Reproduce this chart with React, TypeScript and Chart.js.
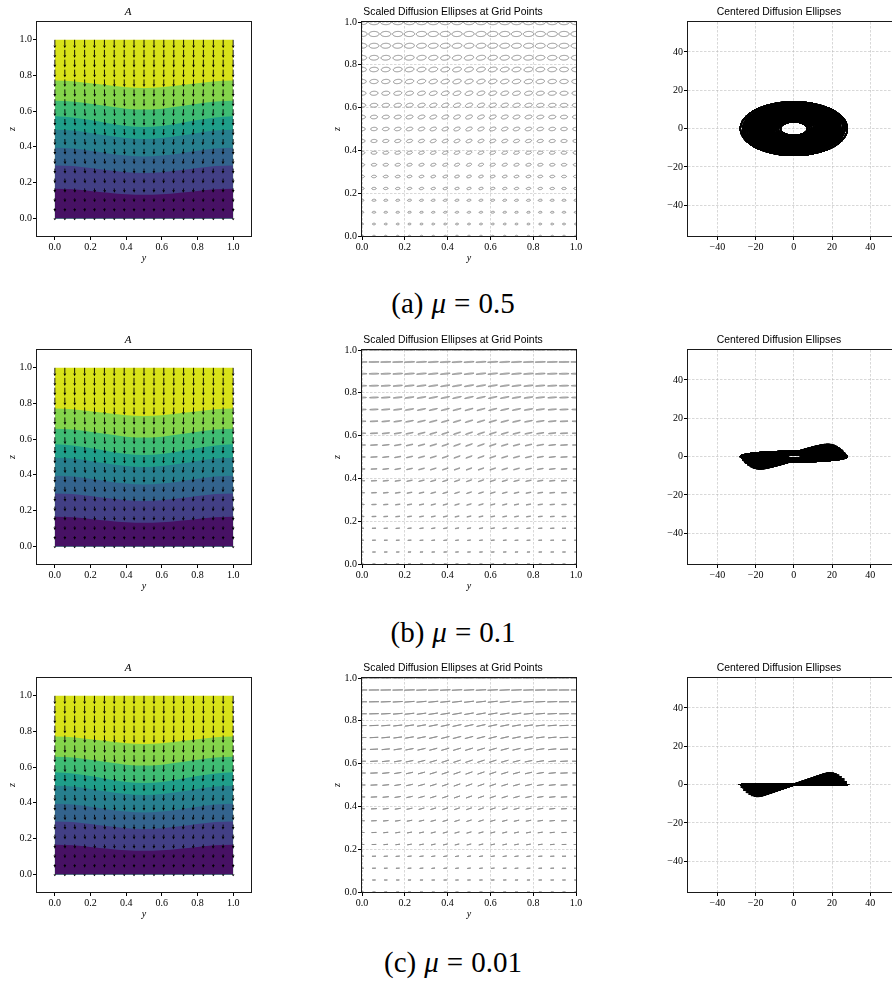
import React, { useEffect, useRef } from 'react';
import { Chart, registerables } from 'chart.js';

Chart.register(...registerables);

// ---------------- data ----------------
const GRID_Y = [0, 0.056, 0.111, 0.167, 0.222, 0.278, 0.333, 0.389, 0.444, 0.5, 0.556, 0.611, 0.667, 0.722, 0.778, 0.833, 0.889, 0.944, 1.0];
const GRID_Z = [0, 0.056, 0.111, 0.167, 0.222, 0.278, 0.333, 0.389, 0.444, 0.5, 0.556, 0.611, 0.667, 0.722, 0.778, 0.833, 0.889, 0.944, 1.0];

// semi-major axis of the diffusion ellipse for each z row (centered-plot units)
const SEMI_MAJOR = [7.0, 8.2, 9.3, 10.5, 11.7, 12.8, 14.0, 15.2, 16.3, 17.5, 18.7, 19.8, 21.0, 22.2, 23.3, 24.5, 25.7, 26.8, 28.0];
// tilt (degrees) by z row, and its weight by y column
const TILT_ROW_DEG = [0, 3.4, 6.7, 9.8, 12.5, 14.9, 16.9, 18.3, 19.2, 19.5, 19.2, 18.3, 16.9, 14.9, 12.5, 9.8, 6.7, 3.4, 0];
const TILT_COL = [0, 0.17, 0.34, 0.5, 0.64, 0.77, 0.87, 0.94, 0.98, 1, 0.98, 0.94, 0.87, 0.77, 0.64, 0.5, 0.34, 0.17, 0];

const MU = [0.5, 0.1, 0.01];
const CAPTION_TAGS = ['(a)', '(b)', '(c)'];
const CAPTION_MU = ['0.5', '0.1', '0.01'];

// quiver arrows of the A field (length in data units by row, sideways skew)
const ARROW_LEN = [0.012, 0.02, 0.022, 0.025, 0.027, 0.029, 0.031, 0.033, 0.035, 0.037, 0.038, 0.04, 0.041, 0.042, 0.043, 0.044, 0.045, 0.046, 0.047];
const ARROW_SKEW_COL = [0, 0.05, 0.09, 0.12, 0.13, 0.12, 0.1, 0.07, 0.03, 0, -0.03, -0.07, -0.1, -0.12, -0.13, -0.12, -0.09, -0.05, 0];
const ARROW_SKEW_ROW = [0.3, 0.5, 0.7, 0.85, 0.95, 1, 1, 1, 0.95, 0.9, 0.8, 0.7, 0.55, 0.4, 0.25, 0.15, 0.05, 0, 0];

// filled contour band upper boundaries of A (z values along y)
const CONTOUR_Y = [0, 0.1, 0.2, 0.3, 0.4, 0.5, 0.6, 0.7, 0.8, 0.9, 1.0];
const BOUND_1 = [0.165, 0.162, 0.153, 0.143, 0.134, 0.131, 0.134, 0.143, 0.153, 0.162, 0.165];
const BOUND_2 = [0.296, 0.292, 0.281, 0.268, 0.257, 0.253, 0.257, 0.268, 0.281, 0.292, 0.296];
const BOUND_3 = [0.395, 0.39, 0.378, 0.363, 0.351, 0.346, 0.351, 0.363, 0.378, 0.39, 0.395];
const BOUND_4 = [0.496, 0.491, 0.478, 0.462, 0.449, 0.444, 0.449, 0.462, 0.478, 0.491, 0.496];
const BOUND_5 = [0.571, 0.565, 0.55, 0.532, 0.517, 0.511, 0.517, 0.532, 0.55, 0.565, 0.571];
const BOUND_6 = [0.659, 0.654, 0.642, 0.627, 0.614, 0.609, 0.614, 0.627, 0.642, 0.654, 0.659];
const BOUND_7 = [0.772, 0.768, 0.757, 0.745, 0.734, 0.73, 0.734, 0.745, 0.757, 0.768, 0.772];
const BOUND_TOP = [1, 1, 1, 1, 1, 1, 1, 1, 1, 1, 1];
const BOUNDS = [BOUND_1, BOUND_2, BOUND_3, BOUND_4, BOUND_5, BOUND_6, BOUND_7, BOUND_TOP];
const BAND_COLORS = ['#471164', '#423f85', '#33638d', '#277f8e', '#1f9e89', '#3fbc73', '#84d44b', '#d8e219'];

const UNIT_TICKS = [0, 0.2, 0.4, 0.6, 0.8, 1.0];
const UNIT_LABELS = ['0.0', '0.2', '0.4', '0.6', '0.8', '1.0'];
const CENTER_TICKS = [-40, -20, 0, 20, 40];
const CENTER_LABELS = ['\u221240', '\u221220', '0', '20', '40'];

// ---------------- layout / style ----------------
const ROW_TOP = [22, 350, 678];
const COL_LEFT = [37, 362, 688];
const CAPTION_CENTER_Y = [303, 632, 962];
const AX = 214;
const PAD_L = 32;
const PAD_T = 22;
const PAD_R = 12;
const PAD_B = 30;
const ELLIPSE_SCALE = 0.025 / 28;

const SERIF = '"Liberation Serif", "Times New Roman", serif';
const SANS = '"Liberation Sans", Arial, sans-serif';
const GRID_COLOR = 'rgba(185,185,185,0.7)';

type Kind = 'field' | 'grid' | 'centered';

function makeAxis(
  axis: 'x' | 'y',
  ticks: number[],
  labels: string[],
  min: number,
  max: number,
  showGrid: boolean,
  title: string | null
): any {
  return {
    type: 'linear',
    position: axis === 'x' ? 'bottom' : 'left',
    min,
    max,
    afterBuildTicks: (s: any) => {
      s.ticks = ticks.map((v) => ({ value: v }));
    },
    afterFit: (s: any) => {
      if (axis === 'x') s.height = PAD_B;
      else s.width = PAD_L;
    },
    ticks: {
      callback: (_v: any, i: number) => labels[i],
      color: '#000',
      font: { family: SERIF, size: 10 },
      padding: 1,
      autoSkip: false,
      maxRotation: 0,
      minRotation: 0,
    },
    grid: {
      drawOnChartArea: showGrid,
      color: GRID_COLOR,
      lineWidth: 0.8,
      drawTicks: true,
      tickLength: 4,
      tickColor: '#000',
      tickWidth: 1,
    },
    border: { display: false, dash: [2.5, 1.5] },
    title: title
      ? {
          display: true,
          text: title,
          color: '#000',
          font: { family: SERIF, size: 10, style: 'italic', lineHeight: '12px' },
          padding: axis === 'x' ? { top: 0, bottom: 2 } : { top: 1, bottom: 0 },
        }
      : { display: false },
  };
}

const framePlugin = {
  id: 'frame',
  afterDraw(chart: any) {
    const { ctx, chartArea } = chart;
    ctx.save();
    ctx.strokeStyle = '#1a1a1a';
    ctx.lineWidth = 1;
    ctx.strokeRect(
      Math.round(chartArea.left) - 0.5,
      Math.round(chartArea.top) - 0.5,
      Math.round(chartArea.right - chartArea.left) + 1,
      Math.round(chartArea.bottom - chartArea.top) + 1
    );
    ctx.restore();
  },
};

const quiverPlugin = {
  id: 'quiver',
  afterDatasetsDraw(chart: any) {
    const { ctx } = chart;
    const xs = chart.scales.x;
    const ys = chart.scales.y;
    ctx.save();
    ctx.fillStyle = '#000';
    ctx.strokeStyle = '#000';
    ctx.lineWidth = 0.9;
    for (let r = 0; r < GRID_Z.length; r++) {
      for (let c = 0; c < GRID_Y.length; c++) {
        const len = ARROW_LEN[r];
        const skew = ARROW_SKEW_COL[c] * ARROW_SKEW_ROW[r];
        const x0 = xs.getPixelForValue(GRID_Y[c]);
        const y0 = ys.getPixelForValue(GRID_Z[r]);
        const x1 = xs.getPixelForValue(GRID_Y[c] + skew * len);
        const y1 = ys.getPixelForValue(GRID_Z[r] - len);
        const dx = x1 - x0;
        const dy = y1 - y0;
        const L = Math.hypot(dx, dy) || 1;
        const ux = dx / L;
        const uy = dy / L;
        const headL = Math.min(2.8, L * 0.85);
        const headW = 1.4;
        const bx = x1 - ux * headL;
        const by = y1 - uy * headL;
        if (L > headL) {
          ctx.beginPath();
          ctx.moveTo(x0, y0);
          ctx.lineTo(bx, by);
          ctx.stroke();
        }
        ctx.beginPath();
        ctx.moveTo(x1, y1);
        ctx.lineTo(bx - uy * headW, by + ux * headW);
        ctx.lineTo(bx + uy * headW, by - ux * headW);
        ctx.closePath();
        ctx.fill();
      }
    }
    ctx.restore();
  },
};

function ellipsePlugin(mu: number, centered: boolean) {
  return {
    id: 'ellipses',
    afterDatasetsDraw(chart: any) {
      const { ctx, chartArea } = chart;
      const xs = chart.scales.x;
      const ys = chart.scales.y;
      ctx.save();
      ctx.beginPath();
      ctx.rect(chartArea.left, chartArea.top, chartArea.right - chartArea.left, chartArea.bottom - chartArea.top);
      ctx.clip();
      ctx.strokeStyle = centered ? '#000' : '#7f7f7f';
      ctx.lineWidth = centered ? 1.3 : 0.9;
      const N = 96;
      for (let r = 0; r < GRID_Z.length; r++) {
        for (let c = 0; c < GRID_Y.length; c++) {
          const a = SEMI_MAJOR[r] * (centered ? 1 : ELLIPSE_SCALE);
          const b = a * mu;
          const th = (TILT_ROW_DEG[r] * TILT_COL[c] * Math.PI) / 180;
          const cx0 = centered ? 0 : GRID_Y[c];
          const cy0 = centered ? 0 : GRID_Z[r];
          const ct = Math.cos(th);
          const st = Math.sin(th);
          ctx.beginPath();
          for (let k = 0; k <= N; k++) {
            const t = (k / N) * 2 * Math.PI;
            const ex = a * Math.cos(t);
            const ey = b * Math.sin(t);
            const px = xs.getPixelForValue(cx0 + ex * ct - ey * st);
            const py = ys.getPixelForValue(cy0 + ex * st + ey * ct);
            if (k === 0) ctx.moveTo(px, py);
            else ctx.lineTo(px, py);
          }
          ctx.closePath();
          ctx.stroke();
        }
      }
      ctx.restore();
    },
  };
}

function buildConfig(kind: Kind, mu: number): any {
  const common = {
    responsive: false,
    animation: false,
    events: [],
    devicePixelRatio: 1,
    layout: { padding: { left: 0, top: 0, right: PAD_R, bottom: 0 } },
  };
  if (kind === 'field') {
    return {
      type: 'line',
      data: {
        datasets: BOUNDS.map((zs, k) => ({
          data: CONTOUR_Y.map((y, i) => ({ x: y, y: zs[i] })),
          borderWidth: 0,
          borderColor: 'transparent',
          backgroundColor: BAND_COLORS[k],
          pointRadius: 0,
          cubicInterpolationMode: 'monotone',
          fill: { value: 0 },
        })),
      },
      options: {
        ...common,
        plugins: {
          legend: { display: false },
          tooltip: { enabled: false },
          title: {
            display: true,
            text: 'A',
            color: '#000',
            font: { family: SERIF, size: 11, style: 'italic', weight: 'normal', lineHeight: '12px' },
            padding: { top: 6, bottom: 4 },
          },
        },
        scales: {
          x: makeAxis('x', UNIT_TICKS, UNIT_LABELS, -0.1, 1.1, false, 'y'),
          y: makeAxis('y', UNIT_TICKS, UNIT_LABELS, -0.1, 1.1, false, 'z'),
        },
      },
      plugins: [quiverPlugin, framePlugin],
    };
  }
  const centered = kind === 'centered';
  const points = centered
    ? [{ x: 0, y: 0 }]
    : GRID_Z.flatMap((z) => GRID_Y.map((y) => ({ x: y, y: z })));
  return {
    type: 'scatter',
    data: { datasets: [{ data: points, pointRadius: 0 }] },
    options: {
      ...common,
      plugins: {
        legend: { display: false },
        tooltip: { enabled: false },
        title: {
          display: true,
          text: centered ? 'Centered Diffusion Ellipses' : 'Scaled Diffusion Ellipses at Grid Points',
          color: '#000',
          font: { family: SANS, size: 10.4, weight: 'normal', lineHeight: '12px' },
          padding: { top: 6, bottom: 4 },
        },
      },
      scales: centered
        ? {
            x: makeAxis('x', CENTER_TICKS, CENTER_LABELS, -55.4, 56.6, true, null),
            y: makeAxis('y', CENTER_TICKS, CENTER_LABELS, -56, 55.6, true, null),
          }
        : {
            x: makeAxis('x', UNIT_TICKS, UNIT_LABELS, 0, 1, true, 'y'),
            y: makeAxis('y', UNIT_TICKS, UNIT_LABELS, 0, 1, true, 'z'),
          },
    },
    plugins: [ellipsePlugin(mu, centered), framePlugin],
  };
}

function Panel({ kind, mu, left, top }: { kind: Kind; mu: number; left: number; top: number }) {
  const ref = useRef<HTMLCanvasElement | null>(null);
  const W = PAD_L + AX + PAD_R;
  const H = PAD_T + AX + PAD_B;
  useEffect(() => {
    if (!ref.current) return;
    const chart = new Chart(ref.current, buildConfig(kind, mu));
    return () => chart.destroy();
  }, [kind, mu]);
  return (
    <canvas
      ref={ref}
      width={W}
      height={H}
      style={{ position: 'absolute', left: left - PAD_L, top: top - PAD_T, width: W, height: H }}
    />
  );
}

export default function App() {
  return (
    <div
      style={{
        position: 'absolute',
        left: 0,
        top: 0,
        width: 892,
        height: 982,
        overflow: 'hidden',
        background: '#fff',
      }}
    >
      {MU.map((mu, r) => (
        <React.Fragment key={r}>
          <Panel kind="field" mu={mu} left={COL_LEFT[0]} top={ROW_TOP[r]} />
          <Panel kind="grid" mu={mu} left={COL_LEFT[1]} top={ROW_TOP[r]} />
          <Panel kind="centered" mu={mu} left={COL_LEFT[2]} top={ROW_TOP[r]} />
          <div
            style={{
              position: 'absolute',
              left: 253,
              width: 400,
              top: CAPTION_CENTER_Y[r] - 17,
              height: 34,
              lineHeight: '34px',
              textAlign: 'center',
              fontFamily: SERIF,
              fontSize: 29,
              color: '#000',
              whiteSpace: 'nowrap',
            }}
          >
            {CAPTION_TAGS[r]}
            <span style={{ marginLeft: 8 }}>
              <i>μ</i>
            </span>
            <span style={{ margin: '0 8px' }}>=</span>
            {CAPTION_MU[r]}
          </div>
        </React.Fragment>
      ))}
    </div>
  );
}
